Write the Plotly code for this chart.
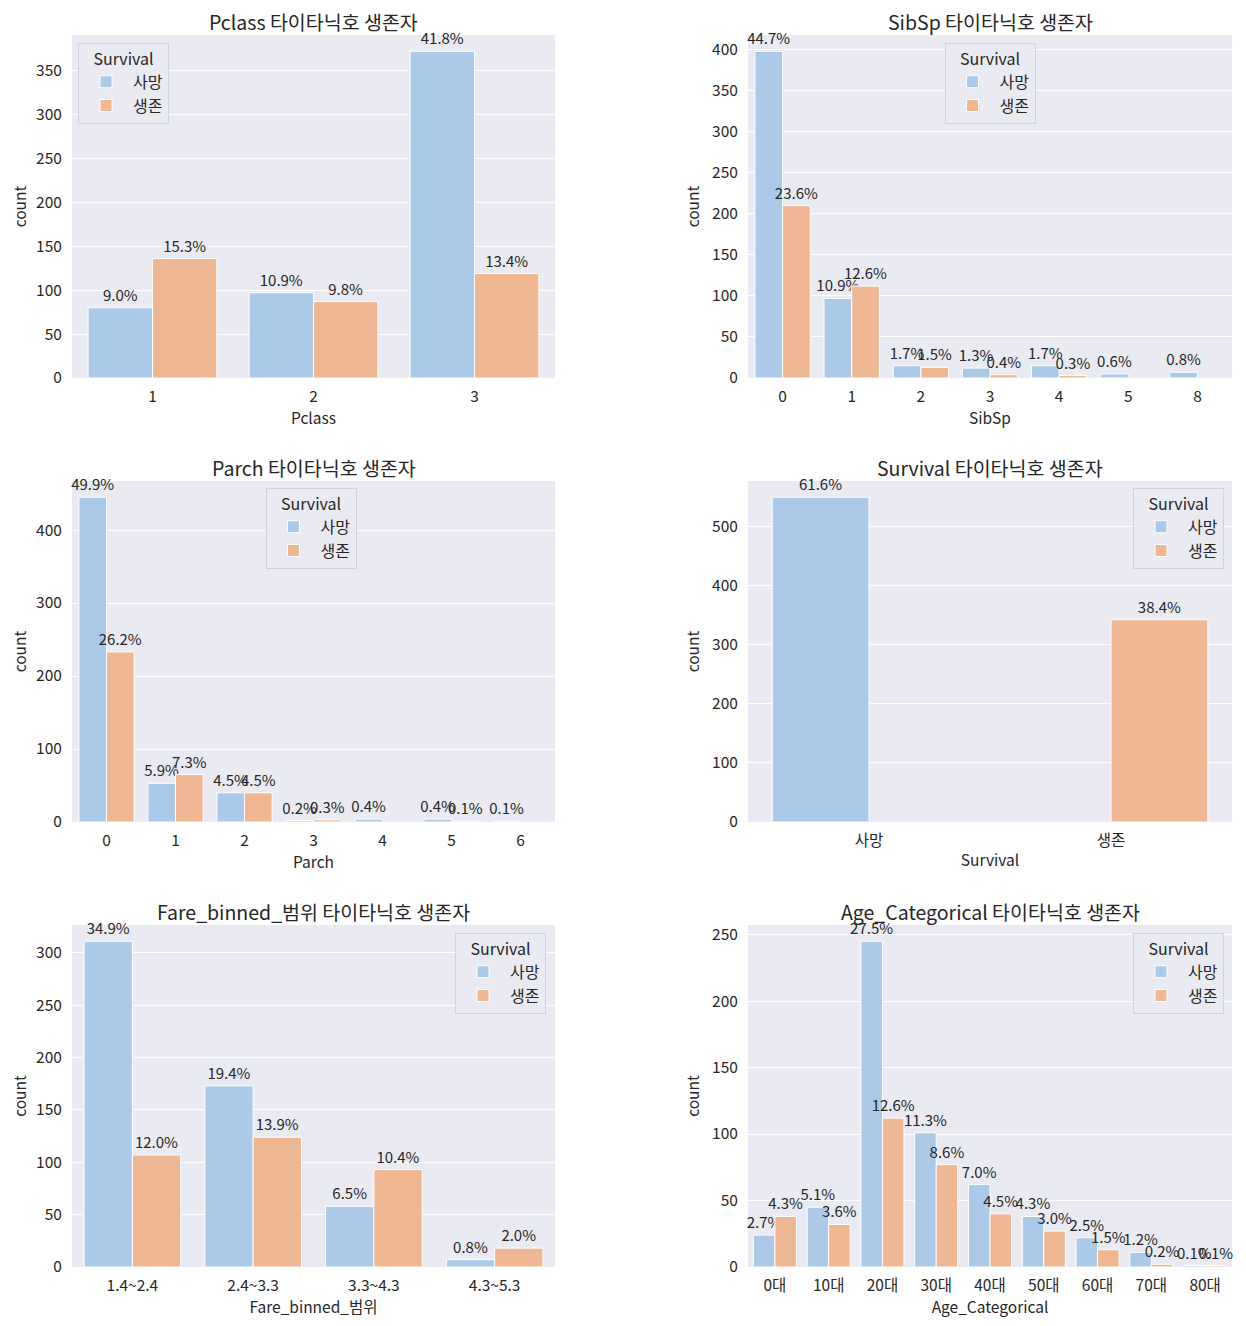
import plotly.graph_objects as go
from plotly.subplots import make_subplots

TOTAL = 891

pclass_cats = ['1', '2', '3']
pclass_died = [80, 97, 372]
pclass_surv = [136, 87, 119]

sibsp_cats = ['0', '1', '2', '3', '4', '5', '8']
sibsp_died = [398, 97, 15, 12, 15, 5, 7]
sibsp_surv = [210, 112, 13, 4, 3, None, None]

parch_cats = ['0', '1', '2', '3', '4', '5', '6']
parch_died = [445, 53, 40, 2, 4, 4, 1]
parch_surv = [233, 65, 40, 3, None, 1, None]

survival_cats = ['사망', '생존']
survival_died = [549, None]
survival_surv = [None, 342]

fare_cats = ['1.4~2.4', '2.4~3.3', '3.3~4.3', '4.3~5.3']
fare_died = [311, 173, 58, 7]
fare_surv = [107, 124, 93, 18]

age_cats = ['0대', '10대', '20대', '30대', '40대', '50대', '60대', '70대', '80대']
age_died = [24, 45, 245, 101, 62, 38, 22, 11, 1]
age_surv = [38, 32, 112, 77, 40, 27, 13, 2, 1]

FONT = 'Noto Sans CJK KR'
TXT = '#262626'
BLUE = '#abcaea'
ORANGE = '#efb792'

# the page puts the figure 8px in from the top-left corner
W, H, OFF = 1238, 1318, 8


def px(x):
    return (x - OFF) / W


def py(y):
    return 1 - (y - OFF) / H


# name, cats, died, surv, dtick, legend position
panels = [
    ('Pclass', pclass_cats, pclass_died, pclass_surv, 50, dict(x=px(78), xanchor='left', y=py(43))),
    ('SibSp', sibsp_cats, sibsp_died, sibsp_surv, 50, dict(x=px(990), xanchor='center', y=py(43))),
    ('Parch', parch_cats, parch_died, parch_surv, 100, dict(x=px(311), xanchor='center', y=py(488))),
    ('Survival', survival_cats, survival_died, survival_surv, 100, dict(x=px(1224), xanchor='right', y=py(488))),
    ('Fare_binned_범위', fare_cats, fare_died, fare_surv, 50, dict(x=px(546), xanchor='right', y=py(933))),
    ('Age_Categorical', age_cats, age_died, age_surv, 50, dict(x=px(1224), xanchor='right', y=py(933))),
]

xdomains = [[px(72), px(555)], [px(748), px(1232)]]
ydomains = [[py(378), py(35)], [py(822), py(481)], [py(1267), py(925)]]


def pct(vals):
    return [None if v is None else f'{v / TOTAL * 100:.1f}%' for v in vals]


fig = make_subplots(rows=3, cols=2)

for i, (name, cats, died, surv, dtick, lpos) in enumerate(panels):
    r, c = i // 2 + 1, i % 2 + 1
    leg = 'legend' if i == 0 else f'legend{i + 1}'
    for label, vals, color in [('사망', died, BLUE), ('생존', surv, ORANGE)]:
        fig.add_trace(go.Bar(
            x=cats, y=vals, name=label, legend=leg,
            marker=dict(color=color, line=dict(color='white', width=1)),
            text=pct(vals), textposition='outside', constraintext='none',
            cliponaxis=False, textfont=dict(size=15, color=TXT, family=FONT),
        ), row=r, col=c)
    ymax = max(v for v in died + surv if v is not None) * 1.05
    fig.update_xaxes(type='category', domain=xdomains[c - 1], title_text=name,
                     title_standoff=6, row=r, col=c)
    fig.update_yaxes(domain=ydomains[r - 1], range=[0, ymax], dtick=dtick,
                     title_text='count', row=r, col=c)
    fig.update_layout({leg: dict(
        title=dict(text='Survival', side='top center', font=dict(size=16, color=TXT)),
        bgcolor='#eaeaf2', bordercolor='#d2d2d8', borderwidth=1,
        font=dict(size=16, color=TXT, family=FONT), itemwidth=44,
        yanchor='top', tracegroupgap=2, **lpos)})
    xref = 'x domain' if i == 0 else f'x{i + 1} domain'
    yref = 'y domain' if i == 0 else f'y{i + 1} domain'
    fig.add_annotation(text=f'{name} 타이타닉호 생존자', xref=xref, yref=yref,
                       x=0.5, y=1, yanchor='bottom', yshift=-3, showarrow=False,
                       font=dict(size=19.5, color=TXT, family=FONT))

fig.update_xaxes(showgrid=False, ticks='outside', ticklen=4, tickcolor='rgba(0,0,0,0)',
                 tickfont=dict(size=15.5, color=TXT), title_font=dict(size=15.5, color=TXT),
                 automargin=False, showline=False, zeroline=False)
fig.update_yaxes(showgrid=True, gridcolor='white', gridwidth=1, zeroline=False,
                 ticks='outside', ticklen=6, tickcolor='rgba(0,0,0,0)',
                 tickfont=dict(size=15.5, color=TXT), title_font=dict(size=15.5, color=TXT),
                 title_standoff=8, automargin=False, showline=False)

fig.update_layout(
    width=W, height=H,
    margin=dict(l=0, r=0, t=0, b=0),
    paper_bgcolor='white', plot_bgcolor='#eaeaf2',
    font=dict(family=FONT, color=TXT),
    barmode='group', bargap=0.2, bargroupgap=0,
)

fig.write_html('out.html')
